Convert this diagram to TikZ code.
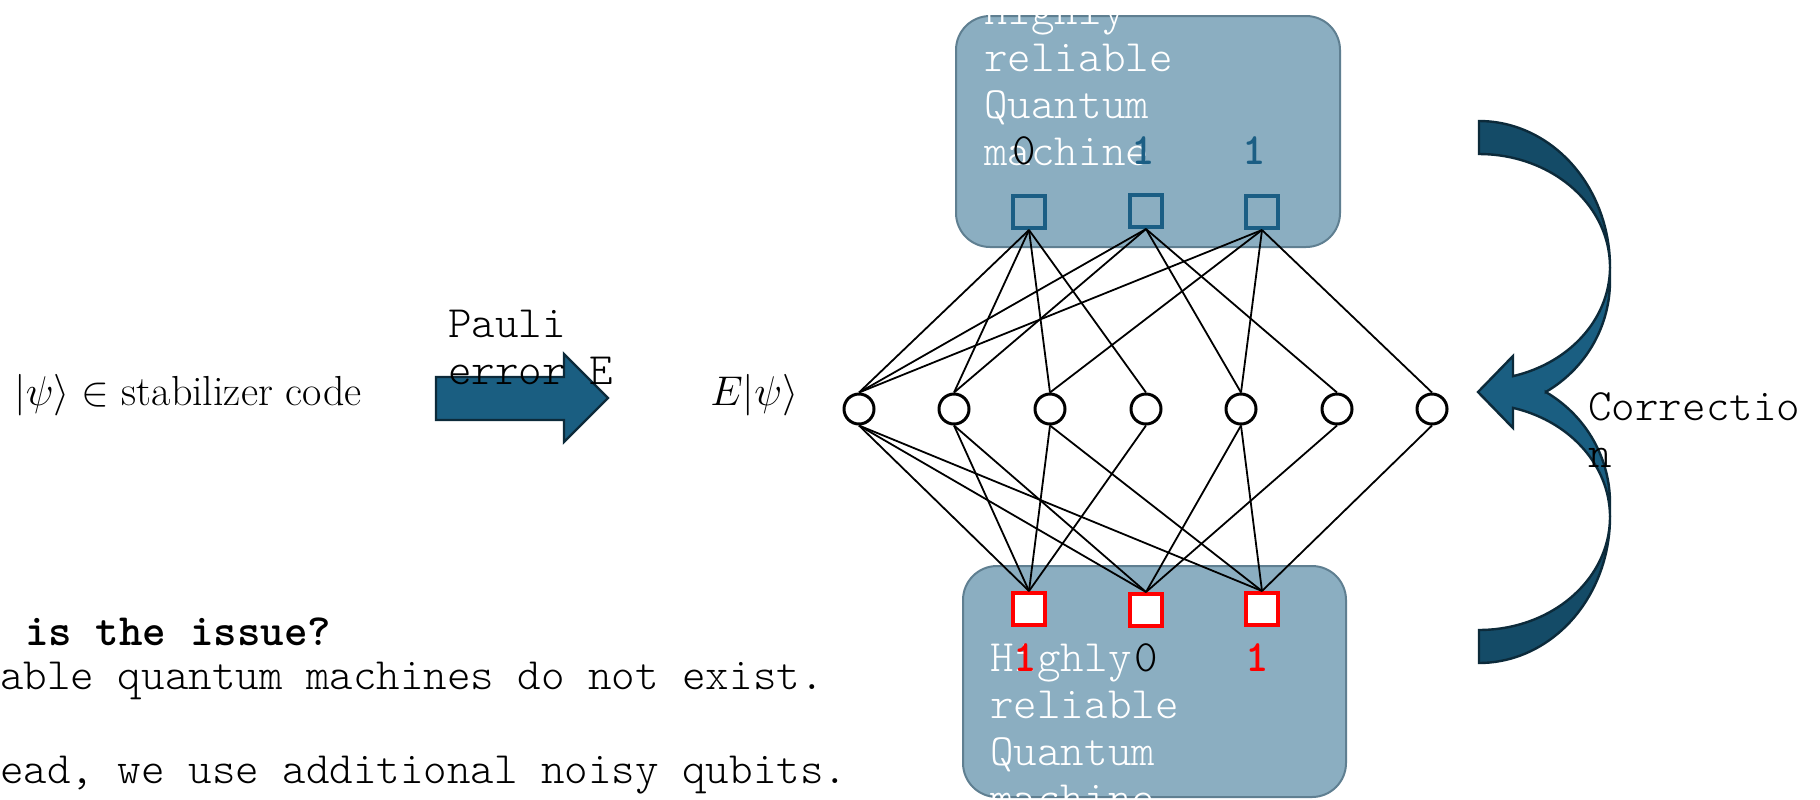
\documentclass[tikz,border=0pt]{standalone}
\usepackage{fontspec}
\definecolor{boxfill}{RGB}{139,174,193}
\definecolor{boxline}{RGB}{95,127,145}
\definecolor{qblue}{RGB}{27,94,132}
\definecolor{arrowlight}{RGB}{26,94,129}
\definecolor{arrowdark}{RGB}{20,75,103}
\definecolor{arrowline}{RGB}{12,42,58}
\newcommand{\monolines}[1]{\begin{tabular}[t]{@{}l@{}}#1\end{tabular}}
\newcommand{\monosize}{\fontsize{22.4}{23.5}\selectfont}
\tikzset{
  machine/.style={fill=boxfill, draw=boxline, line width=1pt, rounded corners=17pt},
  topq/.style={rectangle, draw=qblue, line width=2pt, minimum size=16pt, inner sep=0pt},
  botq/.style={rectangle, draw=red, fill=white, line width=2pt, minimum size=16pt, inner sep=0pt},
  qubit/.style={circle, draw=black, fill=white, line width=1.5pt, minimum size=15pt, inner sep=0pt},
  edge/.style={draw=black, line width=0.9pt},
  mono/.style={font=\ttfamily\fontseries{l}\monosize, inner sep=0pt, anchor=base west},
  monoboldleft/.style={font=\ttfamily\bfseries\monosize, inner sep=0pt, anchor=base west},
  monobold/.style={font=\ttfamily\bfseries\monosize, inner sep=0pt, anchor=base},
  monoreg/.style={font=\ttfamily\fontseries{l}\monosize, inner sep=0pt, anchor=base},
  serif/.style={font=\fontsize{21}{24}\selectfont, inner sep=0pt, anchor=base west},
  blockarrow/.style={fill=arrowlight, draw=arrowline, line width=1.2pt, line join=miter},
  arrowfront/.style={fill=arrowlight, draw=arrowline, line width=1.2pt, line join=miter},
  arrowback/.style={fill=arrowdark, draw=arrowline, line width=1.2pt, line join=miter},
}
\begin{document}
\begin{tikzpicture}[x=0.5pt, y=-0.5pt]
\useasboundingbox[fill=white] (0,0) rectangle (1820,799);

% the two reliable machines
\path[machine] (956,16) rectangle (1340,247);
\path[machine] (963,566) rectangle (1346,797);

% physical qubits
\foreach \i/\x in {1/859,2/954,3/1050,4/1146,5/1241,6/1337,7/1432}
  \node[qubit] (c\i) at (\x,409) {};

% stabilizer checks
\node[topq] (t1) at (1029,212) {};
\node[topq] (t2) at (1146,211) {};
\node[topq] (t3) at (1262,212) {};
\node[botq] (b1) at (1029,609) {};
\node[botq] (b2) at (1146,610) {};
\node[botq] (b3) at (1262,609) {};

% check-to-qubit connections
\foreach \s/\c in {t1/c1,t1/c2,t1/c3,t1/c4,t2/c1,t2/c2,t2/c5,t2/c6,t3/c1,t3/c3,t3/c5,t3/c7}
  \draw[edge] (\s.south) -- (\c.north);
\foreach \s/\c in {b1/c1,b1/c2,b1/c3,b1/c4,b2/c1,b2/c2,b2/c5,b2/c6,b3/c1,b3/c3,b3/c5,b3/c7}
  \draw[edge] (\c.south) -- (\s.north);

% machine captions
\node[mono, text=white] (toptext) at (984,24) {\monolines{Highly\\reliable\\Quantum\\machine}};
\node[mono, text=white] (bottext) at (990,671) {\monolines{Highly\\reliable\\Quantum\\machine}};

% syndrome bits
\node[monoreg, text=black] (tl1) at (1024,164) {0};
\node[monobold, text=qblue] (tl2) at (1143,164) {1};
\node[monobold, text=qblue] (tl3) at (1254,164) {1};
\node[monobold, text=red] (bl1) at (1025,671) {1};
\node[monoreg, text=black] (bl2) at (1146,671) {0};
\node[monobold, text=red] (bl3) at (1257,671) {1};

% encoded state and error
\node[serif] (psi) at (14,405) {$|\psi\rangle \in$ stabilizer code};
\filldraw[blockarrow] (436,377) -- (564,377) -- (564,354) -- (608,398)
  -- (564,442) -- (564,420) -- (436,420) -- cycle;
\node[mono] (pauli) at (448,337) {\monolines{Pauli\\error E}};
\node[serif] (epsi) at (710,405) {$E|\psi\rangle$};

% correction arrows: back faces
\filldraw[arrowback]
  plot[domain=-90:0, samples=40, variable=\t] ({1479+131*cos(\t)},{267+146*sin(\t)})
  -- plot[domain=0:-90, samples=40, variable=\t] ({1479+131*cos(\t)},{267+113*sin(\t)})
  -- cycle;
\filldraw[arrowback]
  plot[domain=-90:0, samples=40, variable=\t] ({1479+131*cos(\t)},{517-146*sin(\t)})
  -- plot[domain=0:-90, samples=40, variable=\t] ({1479+131*cos(\t)},{517-113*sin(\t)})
  -- cycle;
% correction arrows: front faces sharing one head
\filldraw[arrowfront] (1610,267)
  -- plot[domain=0:74.96, samples=40, variable=\t] ({1479+131*cos(\t)},{267+113*sin(\t)})
  -- (1513,356) -- (1478,392) -- (1513,428)
  -- plot[domain=74.96:0, samples=40, variable=\t] ({1479+131*cos(\t)},{517-113*sin(\t)})
  -- (1610,503)
  -- plot[domain=0:59.4, samples=30, variable=\t] ({1479+131*cos(\t)},{503-129*sin(\t)})
  -- plot[domain=59.4:0, samples=30, variable=\t] ({1479+131*cos(\t)},{281+129*sin(\t)})
  -- cycle;
\node[mono] (corr) at (1588,420) {\monolines{Correctio\\n}};

% remarks
\node[monoboldleft] (issue) at (25,645) {is the issue?};
\node[mono] (remark1) at (0,689) {able quantum machines do not exist.};
\node[mono] (remark2) at (0,783) {ead, we use additional noisy qubits.};
\end{tikzpicture}
\end{document}
